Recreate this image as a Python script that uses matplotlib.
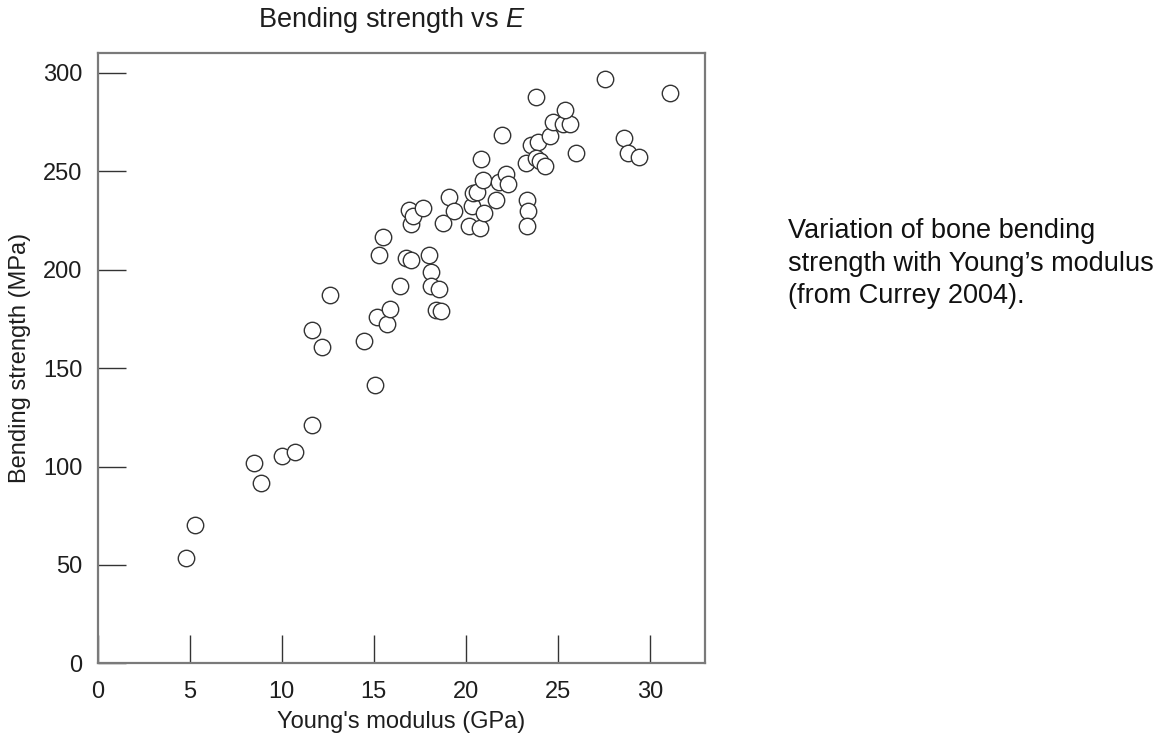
import matplotlib
matplotlib.use("Agg")
import matplotlib.pyplot as plt
import numpy as np

# Young's modulus (GPa) and bending strength (MPa)
modulus = [
    4.80, 5.31, 8.49, 8.89, 10.0, 10.72, 11.64, 11.62, 12.18, 12.6,
    14.45, 15.09, 15.2, 15.72, 15.87, 15.28, 15.52, 16.44, 16.77, 17.03,
    16.92, 17.03, 17.14, 17.69, 18.01, 18.1, 18.1, 18.54, 18.36, 18.67,
    18.76, 19.1, 19.37, 20.2, 20.33, 20.41, 20.63, 20.79, 20.98, 20.94,
    20.81, 21.62, 21.81, 22.16, 22.29, 21.97, 23.28, 23.32, 23.36, 23.34,
    23.56, 23.93, 23.84, 24.06, 24.28, 23.8, 24.6, 24.74, 25.28, 25.66,
    25.37, 25.98, 27.58, 28.6, 28.8, 29.39, 31.09,
]
strength = [
    53.7, 70.1, 102.0, 91.4, 105.5, 107.2, 120.9, 169.6, 160.7, 187.0,
    163.8, 141.6, 176.2, 172.5, 180.1, 207.5, 216.4, 191.5, 206.0, 205.0,
    230.5, 223.5, 227.2, 231.3, 207.7, 199.0, 191.5, 190.0, 179.3, 179.1,
    224.0, 237.0, 229.7, 222.4, 232.4, 239.2, 239.6, 221.2, 228.6, 245.4,
    256.2, 235.3, 244.8, 248.8, 243.8, 268.4, 254.4, 235.3, 230.1, 222.0,
    263.5, 265.1, 257.0, 255.2, 252.7, 288.0, 267.8, 274.9, 274.0, 274.3,
    281.1, 259.1, 297.0, 267.0, 259.5, 257.5, 289.6,
]
x_ticks = [0, 5, 10, 15, 20, 25, 30]
y_ticks = [0, 50, 100, 150, 200, 250, 300]

plt.rcParams['font.family'] = ['Liberation Sans', 'DejaVu Sans']
plt.rcParams['mathtext.fontset'] = 'custom'
plt.rcParams['mathtext.rm'] = 'Liberation Sans'
plt.rcParams['mathtext.it'] = 'Liberation Sans:italic'
text_color = '#1e1e1e'

fig = plt.figure(figsize=(11.66, 7.42), dpi=100)
ax = fig.add_axes([97.7 / 1166, 1 - 663.3 / 742, (705 - 97.7) / 1166, (663.3 - 53.3) / 742])

ax.scatter(modulus, strength, s=140, facecolors='white', edgecolors='#333333',
           linewidths=1.0, zorder=3, clip_on=False)

ax.set_xlim(0, 33)
ax.set_ylim(0, 310)
ax.set_xticks(x_ticks)
ax.set_yticks(y_ticks)
ax.tick_params(direction='in', length=20, width=1.0, color='#333333',
               labelsize=17, labelcolor=text_color, pad=11)
ax.tick_params(axis='x', pad=13)
for side in ['left', 'bottom', 'right', 'top']:
    ax.spines[side].set_color('#7a7a7a')
    ax.spines[side].set_linewidth(1.6)

fig.text(392 / 1166, 1 - 20 / 742, 'Bending strength vs $\\mathit{E}$', ha='center', va='center',
         fontsize=19.5, color=text_color)
fig.text(401 / 1166, 1 - 722 / 742, "Young's modulus (GPa)", ha='center', va='center',
         fontsize=17, color=text_color)
fig.text(20 / 1166, 1 - 358 / 742, 'Bending strength (MPa)', ha='center', va='center',
         rotation=90, fontsize=17, color=text_color)

fig.text(788 / 1166, 1 - 218 / 742,
         "Variation of bone bending\nstrength with Young\u2019s modulus\n(from Currey 2004).",
         ha='left', va='top', fontsize=19.5, color='#111111', linespacing=1.33)

fig.savefig('out.png', dpi=100)
